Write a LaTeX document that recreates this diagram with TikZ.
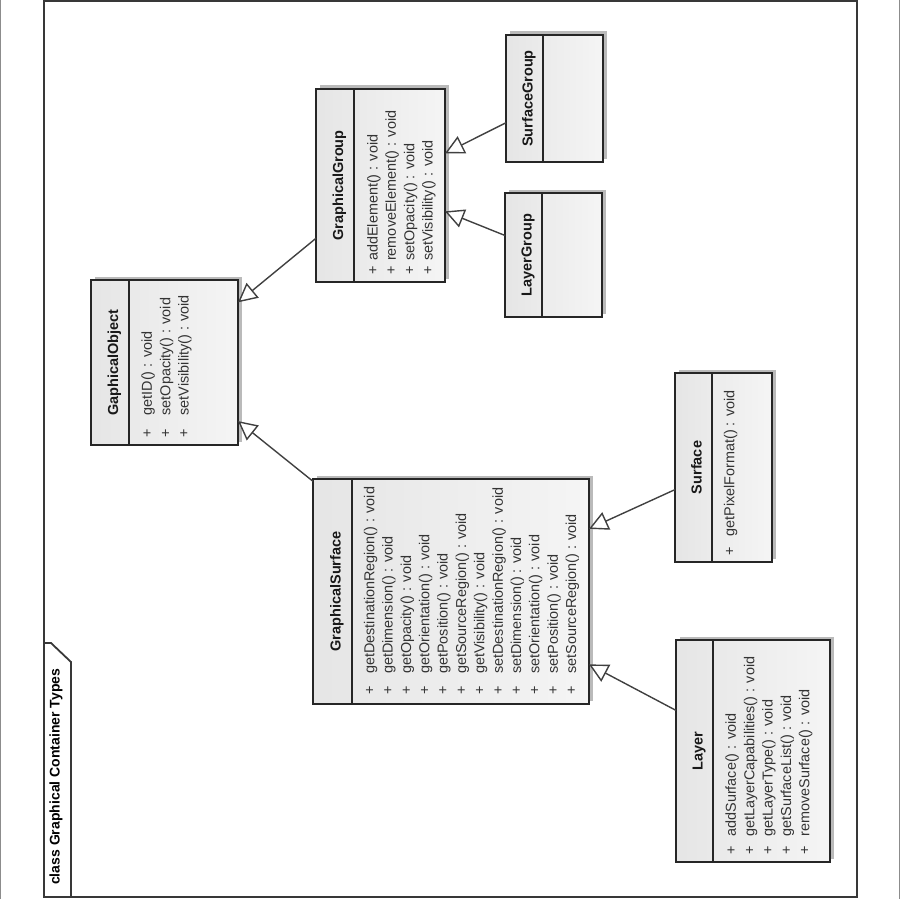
\documentclass[tikz,border=0pt]{standalone}
\usepackage{fontspec}
\setmainfont{Liberation Sans}
\usetikzlibrary{arrows.meta,shadows}

% member list of a class box: prefix, first column x, text start y, "+" y, members
\newcommand\memberlist[5]{%
  \foreach \memb [count=\i from 0] in {#5} {
    \node[plus] (#1p\i) at ({#2+18.35*\i}, #4) {+};
    \node[member] (#1m\i) at ({#2+18.35*\i}, #3) {\memb};
  }}

\begin{document}
\begin{tikzpicture}[x=1pt, y=-1pt,
  frame/.style={draw=black!78, line width=1.8pt},
  classbox/.style={draw=black!85, line width=1.6pt,
    left color=black!10, right color=black!4,
    inner sep=0pt, outer sep=0pt,
    drop shadow={shadow xshift=3.5pt, shadow yshift=3.5pt, fill=black!27, opacity=1}},
  divider/.style={draw=black!85, line width=1.6pt},
  cname/.style={rotate=90, anchor=base, inner sep=0pt,
    font=\fontsize{14.5}{17}\selectfont\bfseries, text=black!90},
  member/.style={rotate=90, anchor=mid west, inner sep=0pt,
    font=\fontsize{14.4}{17}\selectfont, text=black!80},
  plus/.style={rotate=90, anchor=mid, inner sep=0pt,
    font=\fontsize{14.4}{17}\selectfont, text=black!80},
  gen/.style={draw=black!75, line width=1.4pt,
    -{Triangle[open, length=19pt, width=19pt, fill=white]}},
  title/.style={rotate=90, anchor=mid west, inner sep=0pt,
    font=\fontsize{14}{17}\selectfont\bfseries}]

\useasboundingbox (0,0) rectangle (900,899);

% outer border and diagram frame
\draw[black!45, line width=1pt] (0.5,0) -- (0.5,899) (899.5,0) -- (899.5,899);
\draw[frame] (44,1) rectangle (857,897);
\draw[frame] (44,643) -- (51,643) -- (71,662) -- (71,897);
\node[title] (title) at (57,885) {class Graphical Container Types};

% GaphicalObject
\node[classbox, minimum width=147pt, minimum height=165pt] (go) at (164.5,362.5) {};
\draw[divider] ([xshift=38pt]go.north west) -- ([xshift=38pt]go.south west);
\node[cname] (go-name) at ([xshift=27pt]go.west) {GaphicalObject};
\memberlist{go}{149.3}{415.5}{433}{getID() : void,setOpacity() : void,setVisibility() : void}

% GraphicalGroup
\node[classbox, minimum width=129pt, minimum height=193pt] (gg) at (380.5,185.5) {};
\draw[divider] ([xshift=38pt]gg.north west) -- ([xshift=38pt]gg.south west);
\node[cname] (gg-name) at ([xshift=27pt]gg.west) {GraphicalGroup};
\memberlist{gg}{375}{261}{270.7}{addElement() : void,removeElement() : void,setOpacity() : void,setVisibility() : void}

% SurfaceGroup
\node[classbox, minimum width=97pt, minimum height=127pt] (sg) at (554.5,98.5) {};
\draw[divider] ([xshift=37pt]sg.north west) -- ([xshift=37pt]sg.south west);
\node[cname] (sg-name) at ([xshift=26.5pt]sg.west) {SurfaceGroup};

% LayerGroup
\node[classbox, minimum width=97pt, minimum height=124pt] (lg) at (553.5,255) {};
\draw[divider] ([xshift=37pt]lg.north west) -- ([xshift=37pt]lg.south west);
\node[cname] (lg-name) at ([xshift=26.5pt]lg.west) {LayerGroup};

% GraphicalSurface
\node[classbox, minimum width=276pt, minimum height=225pt] (gs) at (451,591.5) {};
\draw[divider] ([xshift=39pt]gs.north west) -- ([xshift=39pt]gs.south west);
\node[cname] (gs-name) at ([xshift=27.5pt]gs.west) {GraphicalSurface};
\memberlist{gs}{371.7}{674}{690}{getDestinationRegion() : void,getDimension() : void,getOpacity() : void,getOrientation() : void,getPosition() : void,getSourceRegion() : void,getVisibility() : void,setDestinationRegion() : void,setDimension() : void,setOrientation() : void,setPosition() : void,setSourceRegion() : void}

% Surface
\node[classbox, minimum width=97pt, minimum height=189pt] (sf) at (723.5,467.5) {};
\draw[divider] ([xshift=37pt]sf.north west) -- ([xshift=37pt]sf.south west);
\node[cname] (sf-name) at ([xshift=26.5pt]sf.west) {Surface};
\memberlist{sf}{731.7}{536.7}{551.7}{getPixelFormat() : void}

% Layer
\node[classbox, minimum width=154pt, minimum height=222pt] (ly) at (753,751) {};
\draw[divider] ([xshift=37pt]ly.north west) -- ([xshift=37pt]ly.south west);
\node[cname] (ly-name) at ([xshift=26.5pt]ly.west) {Layer};
\memberlist{ly}{733.3}{836.7}{850}{addSurface() : void,getLayerCapabilities() : void,getLayerType() : void,getSurfaceList() : void,removeSurface() : void}

% generalizations
\draw[gen] (gg) -- (go);
\draw[gen] (gs) -- (go);
\draw[gen] (sg) -- (gg);
\draw[gen] (lg) -- (gg);
\draw[gen] (sf) -- (gs);
\draw[gen] (ly) -- (gs);
\end{tikzpicture}
\end{document}
